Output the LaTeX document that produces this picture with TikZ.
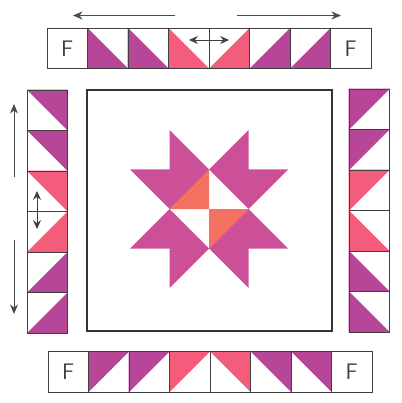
\documentclass[tikz,border=0pt]{standalone}
\usepackage{tikz}
\usetikzlibrary{arrows.meta,backgrounds}
\definecolor{plum}{RGB}{183,70,152}
\definecolor{rose}{RGB}{243,92,122}
\definecolor{starplum}{RGB}{203,80,152}
\definecolor{coral}{RGB}{244,112,96}
\tikzset{
  patch/.style={
    rectangle,
    draw=black!75,
    line width=0.6pt,
    minimum size=10.125mm,
    inner sep=0pt,
    font=\sffamily\fontsize{16}{16}\selectfont,
    text=black!75
  },
  frame/.style={
    rectangle,
    draw=black!80,
    line width=0.9pt,
    minimum width=61.25mm,
    minimum height=60.25mm,
    inner sep=0pt
  },
  move/.style={
    draw=black!70,
    line width=0.6pt,
    -{Stealth[length=2.4mm,width=2mm]}
  },
  swap/.style={
    draw=black!75,
    line width=0.7pt,
    {Stealth[length=2.2mm,width=2mm]}-{Stealth[length=2.2mm,width=2mm]}
  }
}
\newcommand{\halftri}[5]{\fill[#1] (#2.#3) -- (#2.#4) -- (#2.#5) -- cycle;}

\begin{document}
\begin{tikzpicture}[x=0.25mm, y=-0.25mm]
  \useasboundingbox (0,0) rectangle (401,403);

  % ------------------------------------------------------------------
  % border strips
  % ------------------------------------------------------------------
  \node[patch] (t1) at (67.25,48.25) {F};
  \foreach \i in {2,...,7}
    \node[patch] (t\i) at ({47+40.5*(\i-0.5)},48.25) {};
  \node[patch] (t8) at (350.75,48.25) {F};

  \node[patch] (b1) at (68.25,371.75) {F};
  \foreach \i in {2,...,7}
    \node[patch] (b\i) at ({48+40.5*(\i-0.5)},371.75) {};
  \node[patch] (b8) at (351.75,371.75) {F};

  \foreach \i in {1,...,6} {
    \node[patch] (l\i) at (47.25,{90+40.5*(\i-0.5)}) {};
    \node[patch] (r\i) at (369.25,{89+40.5*(\i-0.5)}) {};
  }

  \begin{scope}[on background layer]
    % top
    \halftri{plum}{t2}{north west}{south west}{south east}
    \halftri{plum}{t3}{north west}{south west}{south east}
    \halftri{rose}{t4}{north west}{south west}{south east}
    \halftri{rose}{t5}{south west}{south east}{north east}
    \halftri{plum}{t6}{south west}{south east}{north east}
    \halftri{plum}{t7}{south west}{south east}{north east}
    % bottom
    \halftri{plum}{b2}{north west}{north east}{south west}
    \halftri{plum}{b3}{north west}{north east}{south west}
    \halftri{rose}{b4}{north west}{north east}{south west}
    \halftri{rose}{b5}{north west}{north east}{south east}
    \halftri{plum}{b6}{north west}{north east}{south east}
    \halftri{plum}{b7}{north west}{north east}{south east}
    % left
    \halftri{plum}{l1}{north west}{north east}{south east}
    \halftri{plum}{l2}{north west}{north east}{south east}
    \halftri{rose}{l3}{north west}{north east}{south east}
    \halftri{rose}{l4}{south west}{south east}{north east}
    \halftri{plum}{l5}{south west}{south east}{north east}
    \halftri{plum}{l6}{south west}{south east}{north east}
    % right
    \halftri{plum}{r1}{north west}{north east}{south west}
    \halftri{plum}{r2}{north west}{north east}{south west}
    \halftri{rose}{r3}{north west}{north east}{south west}
    \halftri{rose}{r4}{north west}{south west}{south east}
    \halftri{plum}{r5}{north west}{south west}{south east}
    \halftri{plum}{r6}{north west}{south west}{south east}
  \end{scope}

  % ------------------------------------------------------------------
  % centre block with the star
  % ------------------------------------------------------------------
  \node[frame] (quilt) at (209.5,210.5) {};

  \begin{scope}[shift={(209,209)}, scale=39.5]
    \fill[starplum] (-1,-2) -- (0,-1) -- (-1,0) -- (-2,-1) -- (-1,-1) -- cycle;
    \fill[starplum] (0,-1) -- (1,-2) -- (1,-1) -- (2,-1) -- (1,0) -- cycle;
    \fill[starplum] (-1,0) -- (-2,1) -- (-1,1) -- (-1,2) -- (0,1) -- cycle;
    \fill[starplum] (1,0) -- (2,1) -- (1,1) -- (1,2) -- (0,1) -- cycle;
    \fill[coral] (0,-1) -- (0,0) -- (-1,0) -- cycle;
    \fill[coral] (0,0) -- (1,0) -- (0,1) -- cycle;
  \end{scope}

  % ------------------------------------------------------------------
  % direction arrows
  % ------------------------------------------------------------------
  \coordinate (topLs) at (175,15.5);
  \coordinate (topLe) at (73,15.5);
  \coordinate (topRs) at (237,15.5);
  \coordinate (topRe) at (341,15.5);
  \coordinate (topSa) at (189,40);
  \coordinate (topSb) at (229,40);
  \coordinate (sideUs) at (14,177);
  \coordinate (sideUe) at (14,104);
  \coordinate (sideDs) at (14,240);
  \coordinate (sideDe) at (14,314);
  \coordinate (sideSa) at (37,191);
  \coordinate (sideSb) at (37,229);

  \draw[move] (topLs) -- (topLe);
  \draw[move] (topRs) -- (topRe);
  \draw[swap] (topSa) -- (topSb);
  \draw[move] (sideUs) -- (sideUe);
  \draw[move] (sideDs) -- (sideDe);
  \draw[swap] (sideSa) -- (sideSb);
\end{tikzpicture}
\end{document}
